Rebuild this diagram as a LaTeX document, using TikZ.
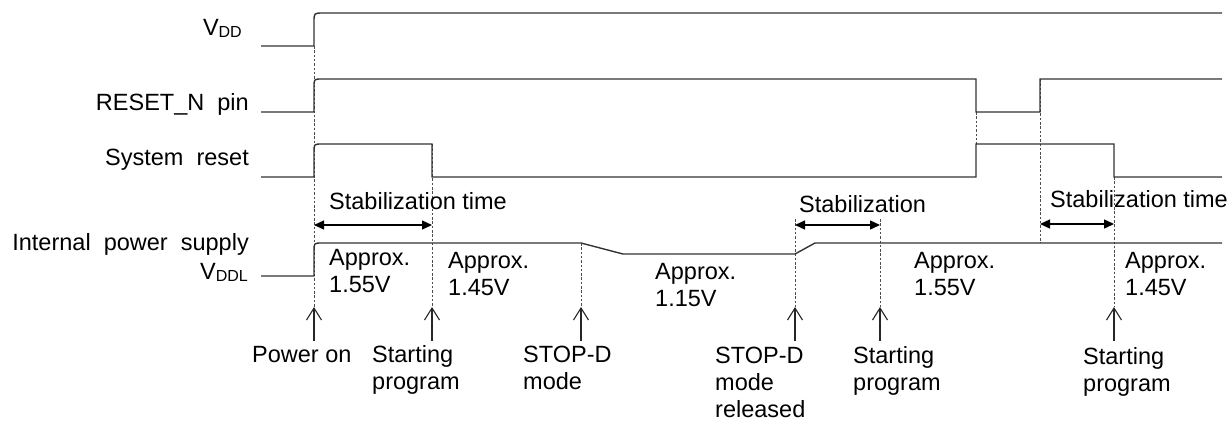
\documentclass[tikz,border=0pt]{standalone}
\usepackage{fontspec}
\setmainfont{Liberation Sans}
\usetikzlibrary{arrows.meta}
\newcommand{\sig}[1]{V\raisebox{-2pt}{\fontsize{16}{16}\selectfont #1}}
\begin{document}
\begin{tikzpicture}[x=1pt,y=-1pt,
  wave/.style={line width=1.4pt, draw=black!80},
  guide/.style={line width=0.7pt, draw=black!70, dash pattern=on 2.5pt off 1.8pt},
  evtarrow/.style={line width=1.1pt, draw=black!85, -{Straight Barb[length=12pt,width=15pt,line width=1.1pt]}},
  span/.style={line width=1.3pt, draw=black, {Triangle[length=10pt,width=9pt]}-{Triangle[length=10pt,width=9pt]}},
  % multi-line texts are placed by the baseline of their last line
  txt/.style={inner sep=0pt, anchor=base west, align=left, font=\fontsize{23.5}{27}\selectfont},
  rtxt/.style={inner sep=0pt, anchor=base east, align=right, font=\fontsize{23.5}{27}\selectfont}
]
\useasboundingbox (0,0) rectangle (1231,421);

% dotted guide lines
\draw[guide] (314,46)   -- (314,307);
\draw[guide] (432,144)  -- (432,307);
\draw[guide] (581,243)  -- (581,307);
\draw[guide] (795,219)  -- (795,307);
\draw[guide] (880,219)  -- (880,307);
\draw[guide] (976,112)  -- (976,144);
\draw[guide] (1040,79)  -- (1040,243);
\draw[guide] (1114,177) -- (1114,307);

% waveforms
\draw[wave] (261,46) -- (314,46) -- (314,22) .. controls (314,13) .. (323,13) -- (1222,13);
\draw[wave] (261,112) -- (314,112) -- (314,87) .. controls (314,79) .. (322,79)
  -- (976,79) -- (976,112) -- (1040,112) -- (1040,79) -- (1222,79);
\draw[wave] (261,177) -- (314,177) -- (314,152) .. controls (314,144) .. (322,144)
  -- (432,144) -- (432,177) -- (976,177) -- (976,144) -- (1114,144) -- (1114,177) -- (1222,177);
\draw[wave] (261,276) -- (314,276) -- (314,251) .. controls (314,243) .. (322,243)
  -- (581,243) -- (623,254) -- (795,254) -- (815,243) -- (1222,243);

% signal names
\node[rtxt] (nVdd)  at (242,35)  {\sig{DD}};
\node[rtxt] (nRst)  at (249,110) {RESET\_N\ \ pin};
\node[rtxt] (nSys)  at (249,165) {System\ \ reset};
\node[rtxt] (nInt)  at (249,250) {Internal\ \ power\ \ supply};
\node[rtxt] (nVddl) at (248,279) {\sig{DDL}};

% stabilization spans
\coordinate (s1a) at (314,225); \coordinate (s1b) at (432,225);
\coordinate (s2a) at (795,225); \coordinate (s2b) at (880,225);
\coordinate (s3a) at (1040,224); \coordinate (s3b) at (1114,224);
\draw[span] (s1a) -- (s1b);
\draw[span] (s2a) -- (s2b);
\draw[span] (s3a) -- (s3b);
\node[txt] (st1) at (329,209)  {Stabilization time};
\node[txt] (st2) at (799,212)  {Stabilization};
\node[txt] (st3) at (1050,207) {Stabilization time};

% voltage levels
\node[txt] (v1) at (329,292)  {Approx.\\1.55V};
\node[txt] (v2) at (448,295)  {Approx.\\1.45V};
\node[txt] (v3) at (655,306)  {Approx.\\1.15V};
\node[txt] (v4) at (914,295)  {Approx.\\1.55V};
\node[txt] (v5) at (1125,295) {Approx.\\1.45V};

% event markers
\foreach \x/\n in {314/a1,432/a2,581/a3,795/a4,880/a5,1114/a6}{
  \coordinate (\n b) at (\x,341);
  \coordinate (\n t) at (\x,307);
  \draw[evtarrow] (\n b) -- (\n t);
}
\node[txt] (e1) at (252,362)  {Power on};
\node[txt] (e2) at (372,389)  {Starting\\program};
\node[txt] (e3) at (523,389)  {STOP-D\\mode};
\node[txt] (e4) at (715,417)  {STOP-D\\mode\\released};
\node[txt] (e5) at (853,390)  {Starting\\program};
\node[txt] (e6) at (1083,391) {Starting\\program};
\end{tikzpicture}
\end{document}
